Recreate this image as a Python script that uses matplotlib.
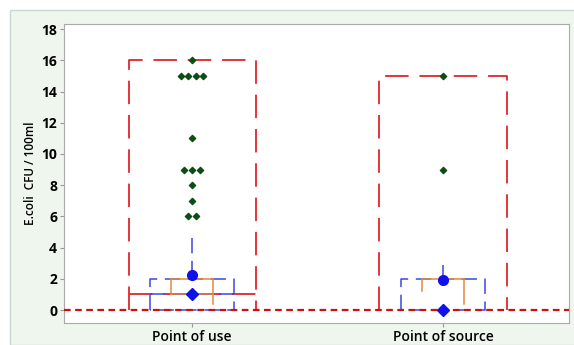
import numpy as np
import matplotlib.pyplot as plt
from matplotlib.patches import Rectangle

groups = ["Point of use", "Point of source"]
# individual observations above the box (dark green points)
use_pts = [16, 15, 15, 15, 15, 11, 9, 9, 9, 8, 7, 6, 6]
use_off = [0, -1.5, -0.5, 0.5, 1.5, 0, -1, 0, 1, 0, 0, -0.5, 0.5]
src_pts = [15, 9]
src_off = [0, 0]
# red dashed range box (min, max, median line)
red_lo = [0, 0]
red_hi = [16, 15]
red_mid = [1, None]
# blue dashed interquartile box
blue_lo = [0, 0]
blue_hi = [2, 2]
blue_mid = [1, None]
blue_whisk = [4.6, 2.9]
means = [2.25, 1.95]
medians = [1, 0]
# orange CI bars: (left low, right low)
orange_left = [1, 1.2]
orange_right = [0.4, 0.4]
orange_top = [2, 2]

plt.rcParams["font.family"] = "Open Sans"

fig = plt.figure(figsize=(5.74, 3.45), dpi=100)
fig.patch.set_facecolor("white")
fig.patches.append(Rectangle((10/574, 0), 1, 1 - 10/345, transform=fig.transFigure,
                             facecolor="#eff6ee", edgecolor="#cfd6cf", lw=1, zorder=-1))
ax = fig.add_axes([64/574, 22/345, 505/574, 299/345])
ax.set_facecolor("white")

red = "#e0242c"
blue = "#3a46e0"
orange = "#e08a3a"
green = "#0b4d12"

for i in range(2):
    # red range box
    hw = 0.253
    ax.plot([i-hw, i-hw, i+hw, i+hw], [red_lo[i], red_hi[i], red_hi[i], red_lo[i]],
            color=red, lw=1.3, dashes=(13, 6))
    if red_mid[i] is not None:
        ax.plot([i-hw, i+hw], [red_mid[i]]*2, color=red, lw=1.3, dashes=(13, 6))
    # blue box
    bw = 0.167
    ax.plot([i-bw, i-bw, i+bw, i+bw, i-bw], [blue_lo[i], blue_hi[i], blue_hi[i], blue_lo[i], blue_lo[i]],
            color=blue, lw=1.1, dashes=(10, 5))
    if blue_mid[i] is not None:
        ax.plot([i-bw, i+bw], [blue_mid[i]]*2, color=blue, lw=1.1, dashes=(10, 5))
    ax.plot([i, i], [blue_whisk[i], blue_hi[i]], color=blue, lw=1.1, dashes=(10, 5))
    # orange interval
    ow = 0.084
    ax.plot([i-ow, i-ow], [orange_left[i], orange_top[i]], color=orange, lw=1.1)
    ax.plot([i+ow, i+ow], [orange_right[i], orange_top[i]], color=orange, lw=1.1)
    ax.plot([i-ow, i+ow], [orange_top[i]]*2, color=orange, lw=1.1)
    if i == 0:
        ax.plot([i-ow, i+ow], [1, 1], color=orange, lw=1.1)
    ax.plot(i, means[i], "o", color="#1010e8", ms=7, zorder=5)
    ax.plot(i, medians[i], "D", color="#1010e8", ms=6, zorder=5)

ax.scatter(np.array(use_off) * 0.03, use_pts, marker="D", s=10, color=green, zorder=6)
ax.scatter(1 + np.array(src_off) * 0.03, src_pts, marker="D", s=10, color=green, zorder=6)

ax.axhline(0, color="#d01010", lw=1.6, dashes=(3, 2), zorder=4)

ax.set_xlim(-0.51, 1.502)
ax.set_ylim(-0.83, 18.33)
ax.set_yticks(range(0, 19, 2))
ax.set_xticks([0, 1])
ax.set_xticklabels(groups, fontsize=10, fontweight="semibold")
ax.tick_params(axis="y", labelsize=10, length=3, color="#999999", pad=2)
ax.tick_params(axis="x", length=3, color="#999999", pad=2)
for lab in ax.get_yticklabels():
    lab.set_fontweight("bold")
for s in ax.spines.values():
    s.set_color("#aaaaaa")
ax.set_ylabel("E.coli  CFU / 100ml", fontsize=8.5, fontweight="semibold", labelpad=3)

fig.savefig("out.png", dpi=100)
